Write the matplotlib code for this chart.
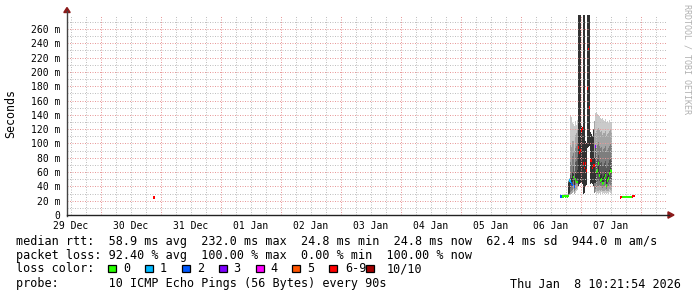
import numpy as np
import matplotlib
matplotlib.use("Agg")
import matplotlib.pyplot as plt
import matplotlib.dates as mdates
from matplotlib.patches import Polygon, Rectangle
from matplotlib.lines import Line2D

plt.rcParams["lines.scale_dashes"] = False

W, H = 697, 297

# ---------------- data ----------------
view_start = "2025-12-29T10:21:54"
view_end = "2026-01-08T10:21:54"
step_minutes = 24

day_labels = ["29 Dec", "30 Dec", "31 Dec", "01 Jan", "02 Jan",
              "03 Jan", "04 Jan", "05 Jan", "06 Jan", "07 Jan"]
label_times = ["2025-12-29T12:00", "2025-12-30T12:00", "2025-12-31T12:00",
               "2026-01-01T12:00", "2026-01-02T12:00", "2026-01-03T12:00",
               "2026-01-04T12:00", "2026-01-05T12:00", "2026-01-06T12:00",
               "2026-01-07T12:00"]
y_ticks = [0, 20, 40, 60, 80, 100, 120, 140, 160, 180, 200, 220, 240, 260]
y_tick_labels = ["0", "20 m", "40 m", "60 m", "80 m", "100 m", "120 m", "140 m",
                 "160 m", "180 m", "200 m", "220 m", "240 m", "260 m"]
y_max = 279.6

loss_keys = ["0", "1", "2", "3", "4", "5", "6-9", "10/10"]
loss_colors = ["#26ff00", "#00b8ff", "#0059ff", "#7e00ff",
               "#ff00ff", "#ff5500", "#ff0000", "#a10000"]

# segment 1: isolated sample on 30 Dec
seg1_start = "2025-12-30T20:45:54"
seg1_median = [24.5, 24.6]
seg1_loss = [8, 8]
seg1_pings = [[24.3, 24.7], [24.4, 24.8]]

# segment 2: 06 Jan afternoon -> 07 Jan morning
seg2_start = "2026-01-06T15:33:54"
seg2_median = [25.8, 26.0, 26.2, 26.0, 26.3, 26.1, 26.4, 26.2, 26.6, 48.0,
               47.0, 44.0, 42.0, 53.0, 40.0, 50.0, 46.0, 46.0, 94.0, 87.0,
               90.0, 118.0, 121.0, 72.0, 66.0, 72.0, 62.0, 177.0, 232.0, 150.0,
               76.0, 76.0, 66.0, 69.0, 69.0, 96.0, 60.0, 62.0, 72.0, 55.0,
               48.0, 50.0, 44.0, 45.0, 52.0, 55.0, 41.0, 48.0, 51.0, 58.0,
               62.0, 61.0]
seg2_loss = [2, 2, 0, 0, 0, 0, 0, 0, 0, 1,
             1, 2, 2, 0, 2, 0, 0, 0, 8, 8,
             8, 8, 8, 8, 8, 8, 8, 8, 8, 8,
             8, 8, 8, 8, 6, 3, 0, 0, 0, 0,
             0, 0, 0, 0, 0, 0, 0, 0, 0, 0,
             0, 0]
seg2_pings = [
    [24.8, 25.0, 25.3, 25.6, 25.9, 26.3, 26.8, 27.4],
    [24.9, 25.1, 25.4, 25.8, 26.1, 26.5, 27.0, 27.6],
    [24.9, 25.2, 25.5, 25.8, 26.0, 26.4, 26.8, 27.2, 27.9, 28.6],
    [24.8, 25.1, 25.4, 25.7, 25.9, 26.2, 26.6, 27.1, 27.7, 28.4],
    [25.0, 25.3, 25.6, 25.9, 26.1, 26.5, 26.9, 27.4, 28.0, 28.8],
    [24.9, 25.2, 25.5, 25.8, 26.0, 26.3, 26.7, 27.2, 27.8, 28.5],
    [25.1, 25.4, 25.7, 26.0, 26.2, 26.6, 27.0, 27.5, 28.1, 28.9],
    [25.0, 25.3, 25.6, 25.9, 26.1, 26.4, 26.8, 27.3, 27.9, 28.7],
    [25.5, 26.0, 26.4, 26.8, 27.5, 45.0, 46.0, 47.0, 48.0, 49.0],
    [28.0, 29.0, 30.0, 31.0, 47.0, 48.0, 49.0, 50.0, 52.0],
    [29.0, 32.0, 38.0, 44.0, 47.0, 56.0, 74.0, 98.0, 139.0],
    [30.0, 34.0, 40.0, 44.0, 52.0, 70.0, 95.0, 137.0],
    [31.0, 35.0, 41.0, 46.0, 60.0, 82.0, 104.0, 128.0],
    [32.0, 36.0, 42.0, 48.0, 53.0, 57.0, 68.0, 86.0, 104.0, 127.0],
    [30.0, 33.0, 38.0, 42.0, 49.0, 62.0, 90.0, 124.0],
    [31.0, 35.0, 42.0, 47.0, 50.0, 59.0, 74.0, 94.0, 112.0, 131.0],
    [33.0, 37.0, 43.0, 46.0, 50.0, 58.0, 75.0, 97.0, 114.0, 126.0],
    [35.0, 39.0, 44.0, 47.0, 52.0, 63.0, 81.0, 101.0, 119.0, 133.0],
    [41.0, 470.0],
    [43.0, 460.0],
    [45.0, 455.0],
    [45.0, 125.0],
    [44.0, 123.0],
    [30.0, 480.0],
    [31.0, 490.0],
    [41.0, 104.0],
    [42.0, 100.0],
    [94.0, 470.0],
    [95.0, 480.0],
    [96.0, 460.0],
    [44.0, 116.0],
    [45.0, 113.0],
    [44.0, 110.0],
    [40.0, 120.0],
    [31.0, 45.0, 80.0, 132.0],
    [32.0, 36.0, 45.0, 60.0, 96.0, 115.0, 142.0],
    [30.0, 33.0, 38.0, 45.0, 55.0, 62.0, 75.0, 95.0, 118.0, 142.0],
    [31.0, 34.0, 40.0, 47.0, 58.0, 64.0, 78.0, 98.0, 120.0, 141.0],
    [30.0, 34.0, 41.0, 49.0, 60.0, 72.0, 84.0, 102.0, 122.0, 140.0],
    [31.0, 35.0, 42.0, 48.0, 55.0, 60.0, 76.0, 97.0, 119.0, 138.0],
    [30.0, 33.0, 39.0, 45.0, 48.0, 56.0, 72.0, 93.0, 116.0, 136.0],
    [32.0, 35.0, 41.0, 46.0, 50.0, 58.0, 74.0, 95.0, 117.0, 134.0],
    [30.0, 33.0, 38.0, 42.0, 44.0, 52.0, 68.0, 90.0, 112.0, 135.0],
    [31.0, 34.0, 39.0, 43.0, 45.0, 54.0, 70.0, 92.0, 114.0, 133.0],
    [30.0, 34.0, 40.0, 46.0, 52.0, 58.0, 73.0, 94.0, 115.0, 131.0],
    [31.0, 35.0, 42.0, 48.0, 55.0, 61.0, 76.0, 96.0, 117.0, 134.0],
    [30.0, 33.0, 37.0, 40.0, 41.0, 50.0, 66.0, 88.0, 110.0, 130.0],
    [31.0, 34.0, 39.0, 44.0, 48.0, 55.0, 70.0, 91.0, 113.0, 132.0],
    [30.0, 34.0, 40.0, 46.0, 51.0, 57.0, 72.0, 93.0, 114.0, 129.0],
    [32.0, 36.0, 43.0, 50.0, 58.0, 63.0, 77.0, 97.0, 118.0, 133.0],
    [31.0, 35.0, 42.0, 50.0, 62.0, 66.0, 80.0, 99.0, 119.0, 130.0],
    [30.0, 34.0, 41.0, 49.0, 61.0, 65.0, 78.0, 96.0, 115.0, 128.0],
]

# segment 3: 07 Jan afternoon
seg3_start = "2026-01-07T15:33:54"
seg3_median = [24.8, 24.9, 25.1, 24.9, 25.0, 25.2, 25.1, 25.3, 25.0, 24.9,
               25.1, 25.2, 26.2, 26.3, 26.4]
seg3_loss = [7, 6, 0, 0, 0, 0, 0, 0, 0, 0, 0, 0, 7, 8, 8]
seg3_pings = [
    [24.6, 24.8, 25.1],
    [24.6, 24.8, 25.0, 25.3],
    [24.7, 24.8, 24.9, 25.0, 25.1, 25.2, 25.3, 25.5, 25.8, 26.2],
    [24.6, 24.7, 24.8, 24.9, 24.9, 25.0, 25.2, 25.4, 25.7, 26.1],
    [24.7, 24.8, 24.9, 24.9, 25.0, 25.1, 25.2, 25.4, 25.6, 26.0],
    [24.8, 24.9, 25.0, 25.1, 25.2, 25.3, 25.4, 25.6, 25.9, 26.3],
    [24.7, 24.8, 24.9, 25.0, 25.1, 25.2, 25.3, 25.5, 25.8, 26.1],
    [24.9, 25.0, 25.1, 25.2, 25.3, 25.4, 25.5, 25.7, 26.0, 26.4],
    [24.7, 24.8, 24.9, 24.9, 25.0, 25.1, 25.2, 25.4, 25.7, 26.0],
    [24.6, 24.7, 24.8, 24.9, 24.9, 25.0, 25.1, 25.3, 25.6, 25.9],
    [24.7, 24.8, 24.9, 25.0, 25.1, 25.2, 25.3, 25.5, 25.7, 26.1],
    [24.8, 24.9, 25.0, 25.1, 25.2, 25.3, 25.4, 25.6, 25.8, 26.2],
    [25.9, 26.2, 26.5],
    [26.1, 26.5],
    [26.2, 26.6],
]

legend_line1 = "median rtt:  58.9 ms avg  232.0 ms max  24.8 ms min  24.8 ms now  62.4 ms sd  944.0 m am/s"
legend_line2 = "packet loss: 92.40 % avg  100.00 % max  0.00 % min  100.00 % now"
legend_line3 = "loss color:"
legend_line4 = "probe:       10 ICMP Echo Pings (56 Bytes) every 90s"
stamp = "Thu Jan  8 10:21:54 2026"
y_label = "Seconds"
watermark = "RRDTOOL / TOBI OETIKER"

# ---------------- drawing ----------------
MONO = "DejaVu Sans Mono"


def fx(x):
    return x / W


def fy(y):
    return 1 - y / H


fig = plt.figure(figsize=(W / 100, H / 100), dpi=100, facecolor="white")
ax_top, ax_bot = 15.0, 215.0
ax = fig.add_axes([fx(67), fy(ax_bot), 600 / W, (ax_bot - ax_top) / H])
ax.set_facecolor("white")
for s in ax.spines.values():
    s.set_visible(False)

x0 = mdates.date2num(np.datetime64(view_start))
x1 = mdates.date2num(np.datetime64(view_end))
ax.set_xlim(x0, x1)
ax.set_ylim(0, y_max)

col_w = step_minutes / 1440.0
median_h = 3.6


def loss_color(l):
    if l <= 5:
        return loss_colors[l]
    if l < 10:
        return loss_colors[6]
    return loss_colors[7]


def draw_segment(start, medians, losses, pings):
    t0 = np.datetime64(start)
    times = t0 + np.arange(len(medians)) * np.timedelta64(step_minutes * 60, "s")
    xs = mdates.date2num(times)
    slots = []
    for p in pings:
        p = sorted(p)
        n = len(p)
        slots.append([p[int(k * n / 10)] for k in range(10)])
    slots = np.array(slots)
    for i in range(1, 10):
        g = int(190 / 5 * abs(5 - i)) + 50
        col = "#%02x%02x%02x" % (g, g, g)
        bottom = slots[:, i - 1]
        height = slots[:, i] - bottom
        m = height > 0
        if m.any():
            ax.bar(xs[m], height[m], bottom=bottom[m], width=col_w, align="edge",
                   color=col, linewidth=0, antialiased=False, zorder=2)
    cols = [loss_color(l) for l in losses]
    med = np.array(medians)
    ax.bar(xs - col_w * 0.3, np.full(len(med), median_h), bottom=med - median_h / 2,
           width=col_w * 1.6, align="edge", color=cols, linewidth=0,
           antialiased=False, zorder=5)


draw_segment(seg1_start, seg1_median, seg1_loss, seg1_pings)
draw_segment(seg2_start, seg2_median, seg2_loss, seg2_pings)
draw_segment(seg3_start, seg3_median, seg3_loss, seg3_pings)

# grid (drawn over the smoke like rrdtool), 1px dots
grid_gray = "#c0c0c0"
grid_red = "#e89a9a"
dash = (0, (0.72, 1.08))
for v in np.arange(10, y_max, 20):
    ax.axhline(v, color=grid_gray, lw=0.72, ls=dash, zorder=3)
for v in y_ticks[1:]:
    ax.axhline(v, color=grid_red, lw=0.72, ls=dash, zorder=3.1)
t = np.datetime64("2025-12-29T12:00")
end = np.datetime64(view_end)
while t < end:
    h = (t - t.astype("datetime64[D]")) / np.timedelta64(1, "h")
    xv = mdates.date2num(t)
    if h == 0:
        ax.axvline(xv, color=grid_red, lw=0.72, ls=dash, zorder=3.1)
    else:
        ax.axvline(xv, color=grid_gray, lw=0.72, ls=dash, zorder=3)
    t = t + np.timedelta64(6, "h")

# ticks
ax.set_yticks(y_ticks)
ax.set_yticklabels(y_tick_labels, fontsize=7, family=MONO)
ax.set_xticks(mdates.date2num(np.array(label_times, dtype="datetime64[m]")))
ax.set_xticklabels(day_labels, fontsize=7, family=MONO)
ax.tick_params(axis="y", length=0, pad=5.0)
ax.tick_params(axis="x", length=0, pad=4.4)

# axis lines and arrows
axis_col = "#444444"
arrow_col = "#8b1a1a"
fig.add_artist(Line2D([fx(67), fx(67)], [fy(ax_bot + 0.5), fy(11)], color=axis_col,
                      lw=1.0, transform=fig.transFigure))
fig.add_artist(Line2D([fx(66.5), fx(669)], [fy(ax_bot), fy(ax_bot)], color="#222222",
                      lw=1.0, transform=fig.transFigure))
fig.add_artist(Polygon([(fx(63.8), fy(12.5)), (fx(70.2), fy(12.5)), (fx(67), fy(7.5))],
                       closed=True, color=arrow_col, transform=fig.transFigure))
fig.add_artist(Polygon([(fx(668), fy(ax_bot - 3.2)), (fx(668), fy(ax_bot + 3.2)),
                        (fx(674), fy(ax_bot))],
                       closed=True, color=arrow_col, transform=fig.transFigure))

# labels
fig.text(fx(11), fy(114), y_label, rotation=90, ha="center", va="center",
         family=MONO, fontsize=8.4, color="black")
fig.text(fx(687), fy(4), watermark, rotation=-90, ha="center", va="top",
         family=MONO, fontsize=6.0, color="#b0b0b0")

LEG_FS = 8.5
fig.text(fx(16), fy(241), legend_line1, ha="left", va="center", family=MONO, fontsize=LEG_FS)
fig.text(fx(16), fy(255), legend_line2, ha="left", va="center", family=MONO, fontsize=LEG_FS)
fig.text(fx(16), fy(269), legend_line3, ha="left", va="center", family=MONO, fontsize=LEG_FS)
fig.text(fx(16), fy(284), legend_line4, ha="left", va="center", family=MONO, fontsize=LEG_FS)
fig.text(fx(681), fy(284), stamp, ha="right", va="center", family=MONO, fontsize=LEG_FS)

box_x = [108, 145, 182, 219, 256, 292, 329, 366]
key_x = [123, 160, 197, 233, 270, 307, 345, 387]
for bx, kx, key, colr in zip(box_x, key_x, loss_keys, loss_colors):
    fig.add_artist(Rectangle((fx(bx), fy(272)), 7.5 / W, 7.5 / H, facecolor=colr,
                             edgecolor="black", lw=0.9, transform=fig.transFigure))
    fig.text(fx(kx), fy(269), key, ha="left", va="center", family=MONO,
             fontsize=LEG_FS)

fig.savefig("out.png", dpi=100, facecolor="white")
